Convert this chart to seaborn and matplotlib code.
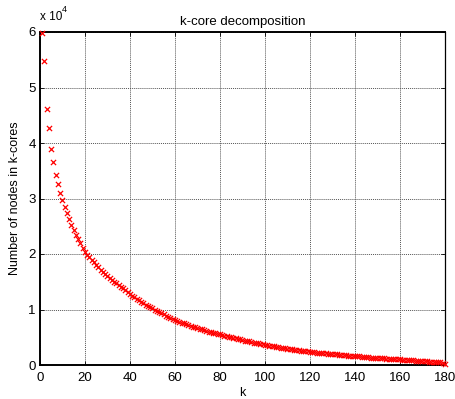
import matplotlib
matplotlib.use("Agg")
import matplotlib.pyplot as plt
import matplotlib.ticker as mticker
import seaborn as sns
import pandas as pd

# number of nodes (in units of 10^4) remaining in the k-core for k = 1..180
nodes_e4 = [
    5.99, 5.48, 4.61, 4.27, 3.90, 3.65, 3.42, 3.26, 3.10, 2.97,
    2.84, 2.74, 2.63, 2.53, 2.44, 2.35, 2.27, 2.19, 2.11, 2.04,
    1.99, 1.94, 1.89, 1.85, 1.80, 1.76, 1.72, 1.68, 1.64, 1.61,
    1.57, 1.54, 1.50, 1.47, 1.44, 1.41, 1.38, 1.35, 1.31, 1.28,
    1.25, 1.22, 1.195, 1.17, 1.14, 1.115, 1.09, 1.065, 1.04, 1.02,
    0.995, 0.975, 0.95, 0.93, 0.91, 0.89, 0.87, 0.85, 0.83, 0.81,
    0.795, 0.78, 0.765, 0.75, 0.735, 0.72, 0.705, 0.69, 0.68, 0.665,
    0.65, 0.64, 0.625, 0.615, 0.60, 0.59, 0.58, 0.57, 0.56, 0.55,
    0.54, 0.53, 0.52, 0.51, 0.50, 0.49, 0.48, 0.47, 0.46, 0.45,
    0.44, 0.435, 0.425, 0.415, 0.405, 0.40, 0.39, 0.38, 0.37, 0.36,
    0.355, 0.35, 0.34, 0.335, 0.325, 0.32, 0.31, 0.305, 0.30, 0.29,
    0.285, 0.28, 0.275, 0.27, 0.265, 0.26, 0.255, 0.25, 0.245, 0.24,
    0.235, 0.23, 0.225, 0.22, 0.215, 0.21, 0.21, 0.205, 0.20, 0.195,
    0.19, 0.19, 0.185, 0.18, 0.175, 0.175, 0.17, 0.165, 0.165, 0.16,
    0.155, 0.155, 0.15, 0.145, 0.145, 0.14, 0.135, 0.135, 0.13, 0.13,
    0.125, 0.12, 0.12, 0.115, 0.115, 0.11, 0.11, 0.105, 0.10, 0.10,
    0.097, 0.094, 0.091, 0.088, 0.085, 0.082, 0.079, 0.076, 0.073, 0.070,
    0.067, 0.064, 0.061, 0.058, 0.055, 0.052, 0.049, 0.046, 0.042, 0.012,
]
k_values = list(range(1, len(nodes_e4) + 1))

x_ticks = list(range(0, 181, 20))
y_ticks = [0, 1, 2, 3, 4, 5, 6]

df = pd.DataFrame({"k": k_values, "nodes": nodes_e4})

sns.set_theme(style="white")
plt.rcParams["font.family"] = ["Liberation Sans", "DejaVu Sans"]

fig = plt.figure(figsize=(4.56, 3.99), dpi=100)
ax = fig.add_axes([40 / 456, 34 / 399, 405 / 456, 333 / 399])

sns.scatterplot(data=df, x="k", y="nodes", ax=ax, marker="x", color="#ff0000",
                s=14, linewidth=0.9, zorder=3, clip_on=False, legend=False)

ax.set_xlim(0, 180)
ax.set_ylim(0, 6)
ax.set_xticks(x_ticks)
ax.set_yticks(y_ticks)
ax.xaxis.set_major_formatter(mticker.FormatStrFormatter("%d"))
ax.yaxis.set_major_formatter(mticker.FormatStrFormatter("%d"))

ax.grid(True, color="#555555", linestyle=(0, (1, 1)), linewidth=0.7)
ax.set_axisbelow(True)
for sp in ax.spines.values():
    sp.set_visible(True)
    sp.set_color("black")
    sp.set_linewidth(0.9)
ax.spines["left"].set_linewidth(1.4)
ax.spines["bottom"].set_linewidth(1.4)
ax.spines["top"].set_linewidth(1.4)

ax.tick_params(axis="both", direction="in", length=3, width=0.6, color="black",
               labelsize=9.5, labelcolor="black", top=True, right=True,
               bottom=True, left=True)
ax.tick_params(axis="x", pad=5)
ax.tick_params(axis="y", pad=3)

ax.set_title("k-core decomposition", fontsize=9.5, pad=5, color="black")
ax.set_xlabel("k", fontsize=9, labelpad=2, color="black")
ax.set_ylabel("Number of nodes in k-cores", fontsize=9, labelpad=5, color="black")

fig.text(40 / 456, 1 - 20 / 399, "x 10", fontsize=8.5, color="black", va="baseline")
fig.text(62 / 456, 1 - 12 / 399, "4", fontsize=6.5, color="black", va="baseline")

fig.savefig("out.png", dpi=100)
